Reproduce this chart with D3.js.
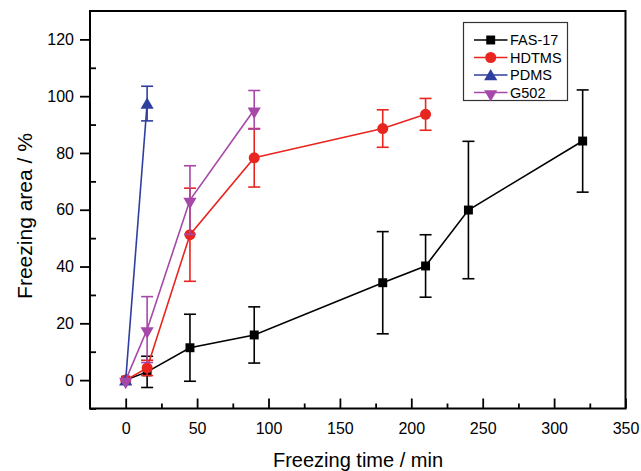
<!DOCTYPE html>
<html><head><meta charset="utf-8">
<script src="https://cdn.jsdelivr.net/npm/d3@7"></script>
<style>body{margin:0;background:#fff}svg{display:block}text{font-family:"Liberation Sans",Arial,sans-serif}</style>
</head><body><svg id="c" width="641" height="471"></svg>
<script>
const seriesNames = ["FAS-17","HDTMS","PDMS","G502"];
const seriesColors = ["#000000","#e8251f","#2e3f9f","#a648a8"];
const seriesShapes = ["square","circle","triangle","triangleDown"];
const fasTime = [0,15,45,90,180,210,240,320];
const fasArea = [0,2.9,11.4,15.9,34.3,40.2,59.9,84.2];
const fasErr  = [0,5.5,11.8,9.9,18,11,24.2,18];
const hdtmsTime = [0,15,45,90,180,210];
const hdtmsArea = [0,4.3,51.2,78.3,88.6,93.6];
const hdtmsErr  = [0,2.7,16.4,10.3,6.6,5.6];
const pdmsTime = [0,15];
const pdmsArea = [0,97.4];
const pdmsErr  = [0,6.1];
const g502Time = [0,15,45,90];
const g502Area = [0,17.8,63.4,95.2];
const g502Err  = [0,11.6,12.1,6.8];
const xTicks = [0,50,100,150,200,250,300,350];
const yTicks = [0,20,40,60,80,100,120];
const xLabel = "Freezing time / min";
const yLabel = "Freezing area / %";

const series = [
  {t:fasTime,a:fasArea,e:fasErr},
  {t:hdtmsTime,a:hdtmsArea,e:hdtmsErr},
  {t:pdmsTime,a:pdmsArea,e:pdmsErr},
  {t:g502Time,a:g502Area,e:g502Err}
].map((s,i)=>({name:seriesNames[i],color:seriesColors[i],shape:seriesShapes[i],
  pts:s.t.map((t,j)=>({x:t,y:s.a[j],e:s.e[j]}))}));

const L=90,R=625.5,T=11,B=408.5;
const svg=d3.select("#c");
const x=d3.scaleLinear().domain([-25,350]).range([L,R]);
const y=d3.scaleLinear().domain([-10,130]).range([B,T]);

// X axis: major ticks inward, minor inward
const gx=svg.append("g").attr("transform",`translate(0,${B})`);
gx.call(d3.axisBottom(x).tickValues(xTicks).tickSize(-10).tickFormat(d3.format("d")).tickPadding(14));
gx.append("g").call(d3.axisBottom(x).tickValues(d3.range(25,350,50)).tickSize(-5).tickFormat(""));
// Y axis: major outward, minor inward
const gy=svg.append("g").attr("transform",`translate(${L},0)`);
gy.call(d3.axisLeft(y).tickValues(yTicks).tickSize(10).tickFormat(d3.format("d")).tickPadding(6));
gy.append("g").call(d3.axisLeft(y).tickValues(d3.range(-10,130,20)).tickSize(-6).tickFormat(""));
svg.selectAll(".domain").remove();
svg.selectAll(".tick line").attr("stroke","#000").attr("stroke-width",1.8);
svg.selectAll(".tick text").attr("font-size",16).attr("fill","#000");

// frame
svg.append("rect").attr("x",L).attr("y",T).attr("width",R-L).attr("height",B-T)
  .attr("fill","none").attr("stroke","#000").attr("stroke-width",2);

const sym={square:d3.symbolSquare,circle:d3.symbolCircle,triangle:d3.symbolTriangle,triangleDown:d3.symbolTriangle};
const symSize={square:80,circle:95,triangle:75,triangleDown:75};
function marker(g,shape,color,cx,cy){
  g.append("path").attr("d",d3.symbol(sym[shape],symSize[shape])())
   .attr("transform",`translate(${cx},${cy})`+(shape==="triangleDown"?" rotate(180) translate(0,-1.5)":shape==="triangle"?" translate(0,1.5)":""))
   .attr("fill",color);
}

const line=d3.line().x(d=>x(d.x)).y(d=>y(d.y));
series.forEach(s=>{
  const g=svg.append("g");
  g.append("path").datum(s.pts).attr("d",line).attr("fill","none").attr("stroke",s.color).attr("stroke-width",1.6);
  s.pts.forEach(p=>{
    if(p.e>0){
      const cx=x(p.x),y1=y(p.y+p.e),y0=y(p.y-p.e);
      g.append("line").attr("x1",cx).attr("x2",cx).attr("y1",y1).attr("y2",y0).attr("stroke",s.color).attr("stroke-width",1.6);
      [y1,y0].forEach(yy=>g.append("line").attr("x1",cx-6).attr("x2",cx+6).attr("y1",yy).attr("y2",yy).attr("stroke",s.color).attr("stroke-width",1.6));
    }
  });
  s.pts.forEach(p=>marker(g,s.shape,s.color,x(p.x),y(p.y)));
});

// legend
const lg=svg.append("g");
lg.append("rect").attr("x",463.5).attr("y",22.5).attr("width",104).attr("height",78)
  .attr("fill","#fff").attr("stroke","#333").attr("stroke-width",1.2);
series.forEach((s,i)=>{
  const yy=40+i*17.5;
  lg.append("line").attr("x1",474).attr("x2",507.5).attr("y1",yy).attr("y2",yy).attr("stroke",s.color).attr("stroke-width",1.6);
  marker(lg,s.shape,s.color,490.7,yy);
  lg.append("text").attr("x",510).attr("y",yy+5.2).attr("font-size",14.5).attr("fill","#000").text(s.name);
});

// axis titles
svg.append("text").attr("x",358).attr("y",467).attr("text-anchor","middle").attr("font-size",20).attr("fill","#000").text(xLabel);
svg.append("text").attr("transform","translate(32,216) rotate(-90)").attr("text-anchor","middle").attr("font-size",21).attr("fill","#000").text(yLabel);
</script></body></html>
